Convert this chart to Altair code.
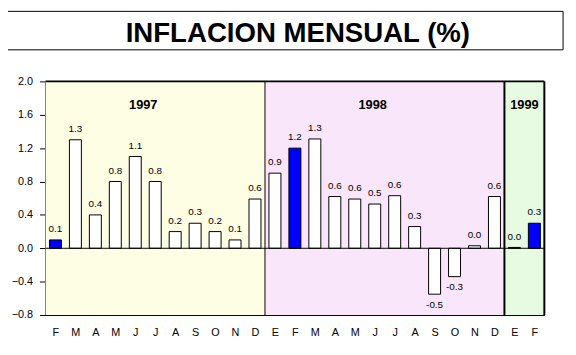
import json
import altair as alt
import pandas as pd

title_text = "INFLACION MENSUAL (%)"

months = ["F", "M", "A", "M", "J", "J", "A", "S", "O", "N", "D",
          "E", "F", "M", "A", "M", "J", "J", "A", "S", "O", "N", "D",
          "E", "F"]
values = [0.10, 1.30, 0.40, 0.80, 1.10, 0.80, 0.20, 0.30, 0.20, 0.10, 0.59,
          0.90, 1.20, 1.31, 0.62, 0.59, 0.53, 0.63, 0.26, -0.55, -0.34, 0.03, 0.62,
          0.01, 0.30]
labels = ["0.1", "1.3", "0.4", "0.8", "1.1", "0.8", "0.2", "0.3", "0.2", "0.1", "0.6",
          "0.9", "1.2", "1.3", "0.6", "0.6", "0.5", "0.6", "0.3", "-0.5", "-0.3", "0.0", "0.6",
          "0.0", "0.3"]
highlight = [True, False, False, False, False, False, False, False, False, False, False,
             False, True, False, False, False, False, False, False, False, False, False, False,
             False, True]

year_names = ["1997", "1998", "1999"]
year_start = [0, 11, 23]
year_end = [11, 23, 25]
year_fill = ["#fefee4", "#fae6fa", "#e6fbe2"]
year_edge = [1, 2]

y_ticks = [-0.8, -0.4, 0.0, 0.4, 0.8, 1.2, 1.6, 2.0]

df = pd.DataFrame({"i": list(range(len(months))), "month": months,
                   "value": values, "label": labels,
                   "fill": ["#0000ff" if h else "white" for h in highlight]})
years_df = pd.DataFrame({"year": year_names, "start": year_start,
                         "end": year_end, "fill": year_fill})
edges_df = pd.DataFrame({"x": year_start[1:], "w": year_edge})

FONT = "Liberation Sans"
xscale = alt.Scale(domain=[0, len(months)], nice=False, zero=False)
yscale = alt.Scale(domain=[-0.8, 2.0], nice=False, zero=False)

x_axis = alt.Axis(
    title=None, grid=False, ticks=False,
    values=[k + 0.5 for k in range(len(months))],
    labelExpr=json.dumps(months) + "[floor(datum.value)]",
    domainColor="black", domainWidth=1,
    labelFont=FONT, labelFontSize=11, labelColor="black", labelPadding=12,
)
y_axis = alt.Axis(
    title=None, grid=False, values=y_ticks, format=".1f",
    domainColor="black", domainWidth=2, tickColor="black", tickSize=6,
    labelFont=FONT, labelFontSize=11, labelColor="black", labelPadding=7,
)

bg = alt.Chart(years_df).transform_calculate(
    top="2.0", bot="-0.8"
).mark_rect().encode(
    x=alt.X("start:Q", scale=xscale, axis=x_axis), x2="end:Q",
    y=alt.Y("top:Q", scale=yscale, axis=y_axis), y2="bot:Q",
    fill=alt.Fill("fill:N", scale=None),
)

year_text = alt.Chart(years_df).transform_calculate(
    mid="(datum.start + datum.end) / 2 - (datum.end - datum.start > 2 ? 0.6 : 0)"
).mark_text(font=FONT, fontSize=13, fontWeight="bold", color="black", baseline="middle").encode(
    x=alt.X("mid:Q", scale=xscale, axis=x_axis),
    y=alt.value(24),
    text="year:N",
)

bars = alt.Chart(df).transform_calculate(
    x0="datum.i + 0.2", x1="datum.i + 0.8"
).mark_rect(stroke="black", strokeWidth=1).encode(
    x=alt.X("x0:Q", scale=xscale, axis=x_axis), x2="x1:Q",
    y=alt.Y("value:Q", scale=yscale, axis=y_axis), y2=alt.datum(0),
    fill=alt.Fill("fill:N", scale=None),
)

pos_text = alt.Chart(df).transform_filter("datum.value >= 0").transform_calculate(
    xc="datum.i + 0.5"
).mark_text(font=FONT, fontSize=10, color="black", baseline="bottom", dy=-6).encode(
    x=alt.X("xc:Q", scale=xscale, axis=x_axis),
    y=alt.Y("value:Q", scale=yscale, axis=y_axis),
    text="label:N",
)
neg_text = alt.Chart(df).transform_filter("datum.value < 0").transform_calculate(
    xc="datum.i + 0.5"
).mark_text(font=FONT, fontSize=10, color="black", baseline="top", dy=6).encode(
    x=alt.X("xc:Q", scale=xscale, axis=x_axis),
    y=alt.Y("value:Q", scale=yscale, axis=y_axis),
    text="label:N",
)

zero_rule = alt.Chart(pd.DataFrame({"y": [0.0]})).mark_rule(color="black", strokeWidth=1).encode(
    y=alt.Y("y:Q", scale=yscale, axis=y_axis)
)
top_rule = alt.Chart(pd.DataFrame({"y": [2.0]})).mark_rule(color="black", strokeWidth=2).encode(
    y=alt.Y("y:Q", scale=yscale, axis=y_axis)
)
right_rule = alt.Chart(pd.DataFrame({"x": [len(months)]})).mark_rule(color="black", strokeWidth=2).encode(
    x=alt.X("x:Q", scale=xscale, axis=x_axis)
)
edge_rules = alt.Chart(edges_df).mark_rule(color="black").encode(
    x=alt.X("x:Q", scale=xscale, axis=x_axis),
    strokeWidth=alt.StrokeWidth("w:Q", scale=None),
)

title_df = pd.DataFrame({"t": [title_text]})
title_box = alt.Chart(title_df).mark_rect(fill="white", stroke="black", strokeWidth=1, clip=False).encode(
    x=alt.value(-41), x2=alt.value(525), y=alt.value(-71), y2=alt.value(-32)
)
title_mark = alt.Chart(title_df).mark_text(
    font="Liberation Sans", fontSize=28, fontWeight="bold",
    color="black", baseline="alphabetic", align="center", clip=False
).encode(
    x=alt.value(256), y=alt.value(-40), text="t:N"
)

chart = alt.layer(
    bg, year_text, bars, pos_text, neg_text, zero_rule, edge_rules, top_rule, right_rule,
    title_box, title_mark
).properties(
    width=506, height=237,
    autosize=alt.AutoSizeParams(type="none"),
    padding={"left": 38, "top": 72, "right": 24, "bottom": 30},
).configure_view(stroke=None)

chart.save("out.html", embed_options={"renderer": "svg", "actions": False})
